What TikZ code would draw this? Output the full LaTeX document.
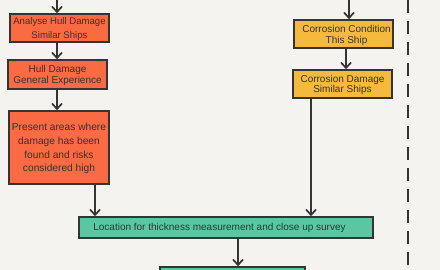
\documentclass[tikz,border=0pt]{standalone}
\usepackage{fontspec}
\setmainfont{Liberation Sans}
\usetikzlibrary{arrows.meta,calc}
\definecolor{bgpaper}{HTML}{F4F3EF}
\definecolor{hullorange}{HTML}{FA6A43}
\definecolor{corryellow}{HTML}{F5B93E}
\definecolor{locgreen}{HTML}{5CC6A2}
\definecolor{inkgray}{HTML}{343434}

\begin{document}
\begin{tikzpicture}[x=1pt,y=-1pt,font=\fontsize{10}{11}\selectfont,>=Straight Barb]
\tikzset{
  box/.style={draw=inkgray,line width=1.5pt,align=center,inner sep=0pt,text=inkgray,text depth=-1.5pt},
  arr/.style={-{Straight Barb[length=5.5pt,width=10pt]},line width=1.7pt,draw=inkgray},
  sep/.style={line width=2.2pt,draw=inkgray,dash pattern=on 13pt off 8pt,dash phase=14pt}
}
\fill[bgpaper] (0,0) rectangle (440,270);
\useasboundingbox (0,0) rectangle (440,270);

% left column: hull damage
\node[box,fill=hullorange,minimum width=99pt,minimum height=28pt,
  font=\fontsize{9.6}{14}\selectfont] (hullsim) at (59.5,28) {
  Analyse Hull Damage\\Similar Ships
};
\node[box,fill=hullorange,minimum width=99pt,minimum height=29pt,
  font=\fontsize{10}{11.7}\selectfont] (hullgen) at (57.5,74.5) {
  Hull Damage\\General Experience
};
\node[box,fill=hullorange,minimum width=100pt,minimum height=73pt,
  font=\fontsize{10.2}{13.7}\selectfont] (areas) at (59,147.5) {
  Present areas where\\damage has been\\found and risks\\considered high
};

% right column: corrosion
\node[box,fill=corryellow,minimum width=99pt,minimum height=28pt,text depth=-3pt] (corrthis) at (343.5,34) {
  \hspace*{6pt}Corrosion Condition\\\hspace*{6pt}This Ship
};
\node[box,fill=corryellow,minimum width=99pt,minimum height=28pt,text depth=-3pt,
  font=\fontsize{10}{10.5}\selectfont] (corrsim) at (342.5,84) {
  Corrosion Damage\\Similar Ships
};

% bottom
\node[box,fill=locgreen,minimum width=294pt,minimum height=21pt,align=none,text depth=1pt] (location) at (226,227.5) {%
  \hspace*{-13pt}Location for thickness measurement and close up survey%
};
\node[box,fill=locgreen,minimum width=145pt,minimum height=26pt] (next) at (232.5,280) {};

\coordinate (hullin) at (57,-4);
\coordinate (corrin) at (349,-4);
\coordinate (septop) at (408,-7);
\coordinate (sepbot) at (408,277);

\draw[arr] (hullin) -- (hullin |- hullsim.north);
\draw[arr] ([xshift=-2.5pt]hullsim.south) -- ([xshift=-2.5pt]hullsim.south |- hullgen.north);
\draw[arr] ([xshift=-0.5pt]hullgen.south) -- ([xshift=-0.5pt]hullgen.south |- areas.north);
\draw[arr] ([xshift=36pt]areas.south) -- ([xshift=36pt]areas.south |- location.north);

\draw[arr] (corrin) -- (corrin |- corrthis.north);
\draw[arr] ([xshift=2.5pt]corrthis.south) -- ([xshift=2.5pt]corrthis.south |- corrsim.north);
\draw[arr] ([xshift=-31.5pt]corrsim.south) -- ([xshift=-31.5pt]corrsim.south |- location.north);

\draw[arr] ([xshift=12pt]location.south) -- ([xshift=12pt]location.south |- next.north);

\draw[sep] (septop) -- (sepbot);
\end{tikzpicture}
\end{document}
